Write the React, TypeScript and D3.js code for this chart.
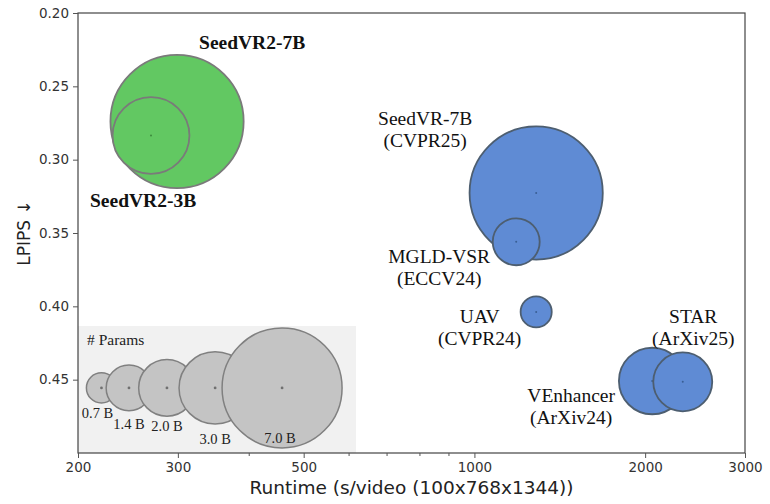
import React, {useRef, useEffect} from 'react';
import * as d3 from 'd3';

// bubble data
const models = ['SeedVR2-7B', 'SeedVR2-3B', 'SeedVR-7B', 'MGLD-VSR', 'UAV', 'VEnhancer', 'STAR'];
const venues = ['', '', '(CVPR25)', '(ECCV24)', '(CVPR24)', '(ArXiv24)', '(ArXiv25)'];
const runtimes = [299, 269, 1285, 1185, 1285, 2058, 2330];
const lpips = [0.274, 0.2835, 0.3227, 0.356, 0.4038, 0.4509, 0.4515];
const params = [7, 2.8, 7, 1.23, 0.62, 2.2, 1.8];
const ours = [true, true, false, false, false, false, false];

// size legend
const legendParams = [0.7, 1.4, 2.0, 3.0, 7.0];
const legendLabels = ['0.7 B', '1.4 B', '2.0 B', '3.0 B', '7.0 B'];
const legendRuntimes = [220, 246, 287, 349, 458];
const legendLpips = 0.4556;

const xTicks = [200, 300, 500, 1000, 2000, 3000];
const xMinorTicks = [400, 600, 700, 800, 900];
const yTicks = [0.20, 0.25, 0.30, 0.35, 0.40, 0.45];

// label placement (px offsets from bubble centre)
const labelOffsets = [
    {dx: 22, dy: -72.5, anchor: 'start'},
    {dx: -61, dy: 71.5, anchor: 'start'},
    {dx: -111, dy: -68, anchor: 'middle'},
    {dx: -77, dy: 21, anchor: 'middle'},
    {dx: -56.5, dy: 11, anchor: 'middle'},
    {dx: -81, dy: 21.5, anchor: 'middle'},
    {dx: 10.5, dy: -59, anchor: 'middle'},
];
const legendLabelOffsets = [[-4, 30], [0, 41], [0, 43], [0, 56], [-2, 55]];

const WIDTH = 770;
const HEIGHT = 504;
const SANS = '"DejaVu Sans", sans-serif';
const SERIF = '"Liberation Serif", "Times New Roman", serif';

const App: React.FC = () => {
    const ref = useRef<SVGSVGElement | null>(null);

    useEffect(() => {
        if (!ref.current) return;
        const left = 78, right = 745, top = 13, bottom = 453;

        const x = d3.scaleLog().domain([200, 3000]).range([left, right]);
        const y = d3.scaleLinear().domain([0.2, 0.5]).range([top, bottom]);
        const r = d3.scalePow().exponent(0.6).domain([0, 7]).range([0, 66.6]);
        const rLegend = d3.scalePow().exponent(0.6).domain([0, 7]).range([0, 60]);

        const svg = d3.select(ref.current);

        svg.append('rect')
            .attr('width', WIDTH).attr('height', HEIGHT).attr('fill', '#fff');

        // legend panel
        svg.append('rect')
            .attr('x', left).attr('y', 326)
            .attr('width', 356 - left).attr('height', bottom - 326)
            .attr('fill', '#f1f1f1');

        svg.append('text')
            .attr('x', 87).attr('y', 345)
            .attr('font-family', SERIF).attr('font-size', '15.5px').attr('fill', '#222')
            .text('# Params');

        const lg = svg.selectAll('g.legend')
            .data(legendParams)
            .join('g')
            .attr('class', 'legend')
            .attr('transform', (d, i) => `translate(${x(legendRuntimes[i])},${y(legendLpips)})`);

        lg.append('circle')
            .attr('r', d => rLegend(d))
            .attr('fill', '#c4c4c4')
            .attr('stroke', '#808080')
            .attr('stroke-width', 1.5);

        lg.append('circle')
            .attr('r', 1.4)
            .attr('fill', '#707070');

        lg.append('text')
            .attr('x', (d, i) => legendLabelOffsets[i][0])
            .attr('y', (d, i) => legendLabelOffsets[i][1])
            .attr('text-anchor', 'middle')
            .attr('font-family', SERIF).attr('font-size', '14.5px').attr('fill', '#222')
            .text((d, i) => legendLabels[i]);

        // bubbles
        const gs = svg.selectAll('g.bubble')
            .data(models)
            .join('g')
            .attr('class', 'bubble')
            .attr('transform', (d, i) => `translate(${x(runtimes[i])},${y(lpips[i])})`);

        gs.append('circle')
            .attr('r', (d, i) => r(params[i]))
            .attr('fill', (d, i) => ours[i] ? '#62c862' : '#5f8bd4')
            .attr('stroke', (d, i) => ours[i] ? '#7a7a7a' : '#4d5e70')
            .attr('stroke-width', 1.8);

        gs.append('circle')
            .attr('r', 1)
            .attr('fill', (d, i) => ours[i] ? '#3d8a3d' : '#3a5f95');

        // labels
        models.forEach((name, i) => {
            const o = labelOffsets[i];
            const t = svg.append('text')
                .attr('x', x(runtimes[i]) + o.dx)
                .attr('y', y(lpips[i]) + o.dy)
                .attr('text-anchor', o.anchor)
                .attr('font-family', SERIF)
                .attr('font-size', '19.5px')
                .attr('font-weight', ours[i] ? 'bold' : 'normal')
                .attr('fill', '#111');
            t.append('tspan').text(name);
            if (venues[i]) {
                t.append('tspan')
                    .attr('x', x(runtimes[i]) + o.dx)
                    .attr('dy', 22)
                    .text(venues[i]);
            }
        });

        // frame
        svg.append('rect')
            .attr('x', left).attr('y', top)
            .attr('width', right - left).attr('height', bottom - top)
            .attr('fill', 'none').attr('stroke', '#444').attr('stroke-width', 1.2);

        // x axis
        const xAxis = d3.axisBottom(x)
            .tickValues(xTicks)
            .tickFormat(d => String(d))
            .tickSize(5)
            .tickPadding(4);
        const xg = svg.append('g').attr('transform', `translate(0,${bottom})`).call(xAxis);
        xg.select('.domain').remove();

        const xMinor = d3.axisBottom(x).tickValues(xMinorTicks).tickFormat(() => '').tickSize(3);
        const xmg = svg.append('g').attr('transform', `translate(0,${bottom})`).call(xMinor);
        xmg.select('.domain').remove();

        // y axis
        const yAxis = d3.axisLeft(y)
            .tickValues(yTicks)
            .tickFormat(d3.format('.2f'))
            .tickSize(5)
            .tickPadding(4);
        const yg = svg.append('g').attr('transform', `translate(${left},0)`).call(yAxis);
        yg.select('.domain').remove();

        svg.selectAll('.tick line').attr('stroke', '#555');
        svg.selectAll('.tick text')
            .attr('font-family', SANS)
            .attr('font-size', '13.5px')
            .attr('fill', '#333');

        svg.append('text')
            .attr('x', (left + right) / 2).attr('y', 494)
            .attr('text-anchor', 'middle')
            .attr('font-family', SANS).attr('font-size', '18.5px').attr('fill', '#222')
            .text('Runtime (s/video (100x768x1344))');

        svg.append('text')
            .attr('transform', `translate(30,${(top + bottom) / 2}) rotate(-90)`)
            .attr('text-anchor', 'middle')
            .attr('font-family', SANS).attr('font-size', '17px').attr('fill', '#222')
            .text('LPIPS ↓');

        return () => {
            // eslint-disable-next-line react-hooks/exhaustive-deps
            d3.select(ref.current).selectAll('*').remove();
        };
    }, []);

    return <svg ref={ref} width={WIDTH} height={HEIGHT}
                style={{position: 'absolute', left: 0, top: 0, display: 'block'}}></svg>;
};

export default App;
